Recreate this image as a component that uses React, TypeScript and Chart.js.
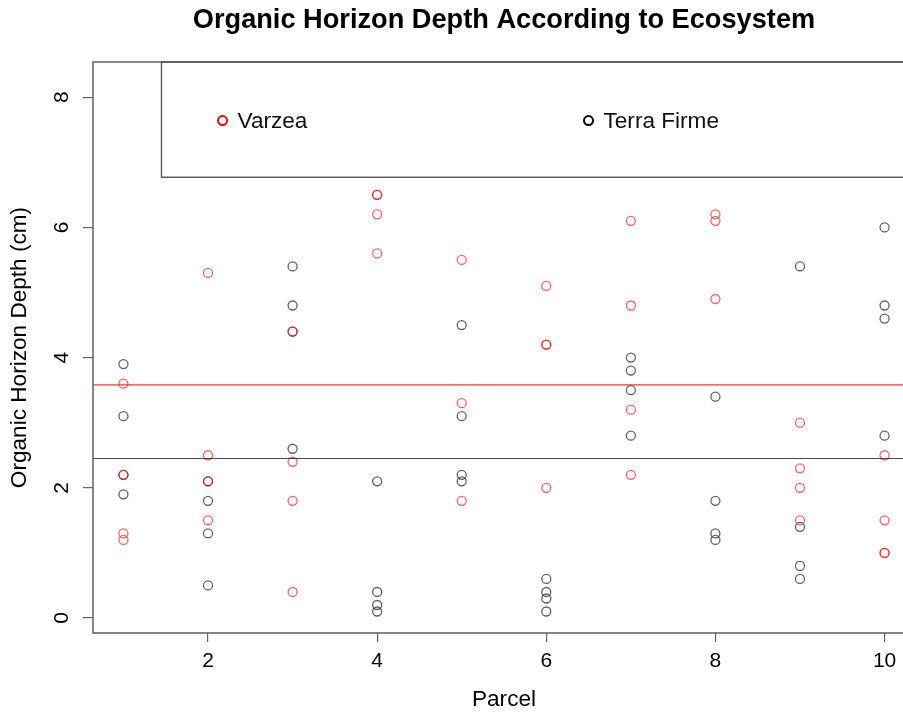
import React, { useEffect, useRef } from "react";
import { Chart, registerables } from "chart.js";

Chart.register(...registerables);

// ---- data ----
const parcels = [1, 2, 3, 4, 5, 6, 7, 8, 9, 10];
const varzeaDepths = [
  [3.6, 2.2, 1.3, 1.2],
  [5.3, 2.5, 2.1, 1.5],
  [4.4, 2.4, 1.8, 0.4],
  [6.5, 6.5, 6.2, 5.6],
  [5.5, 3.3, 1.8],
  [5.1, 4.2, 4.2, 2.0],
  [6.1, 4.8, 3.2, 2.2],
  [6.2, 6.1, 4.9],
  [3.0, 2.3, 2.0, 1.5],
  [2.5, 1.5, 1.0, 1.0],
];
const terraFirmeDepths = [
  [3.9, 3.1, 2.2, 1.9],
  [2.1, 1.8, 1.3, 0.5],
  [5.4, 4.8, 4.4, 2.6],
  [2.1, 0.4, 0.2, 0.1],
  [4.5, 3.1, 2.2, 2.1],
  [0.6, 0.4, 0.3, 0.1],
  [4.0, 3.8, 3.5, 2.8],
  [3.4, 1.8, 1.3, 1.2],
  [5.4, 1.4, 0.8, 0.6],
  [6.0, 4.8, 4.6, 2.8],
];
const varzeaMean = 3.58;
const terraFirmeMean = 2.45;
const xTicks = [2, 4, 6, 8, 10];
const yTicks = [0, 2, 4, 6, 8];
const xRange = [0.64, 10.36];
const yRange = [-0.23, 8.54];
const seriesNames = ["Varzea", "Terra Firme"];
const titleText = "Organic Horizon Depth According to Ecosystem";
const xTitle = "Parcel";
const yTitle = "Organic Horizon Depth (cm)";

const FONT = "'Liberation Sans', Arial, sans-serif";
const RED_PT = "rgba(255,0,0,0.62)";
const BLK_PT = "rgba(0,0,0,0.62)";

function toPoints(groups: number[][]) {
  const out: { x: number; y: number }[] = [];
  groups.forEach((vals, i) => vals.forEach((v) => out.push({ x: parcels[i], y: v })));
  return out;
}

const decorPlugin = {
  id: "decor",
  afterDraw(chart: any) {
    const { ctx, chartArea, scales } = chart;
    const xs = scales.x;
    const ys = scales.y;
    ctx.save();
    // box
    ctx.strokeStyle = "#555";
    ctx.lineWidth = 1.4;
    ctx.strokeRect(chartArea.left, chartArea.top, chartArea.right - chartArea.left, chartArea.bottom - chartArea.top);

    // title
    ctx.fillStyle = "#000";
    ctx.font = `bold 27.2px ${FONT}`;
    ctx.textAlign = "center";
    ctx.textBaseline = "middle";
    ctx.fillText(titleText, (chartArea.left + chartArea.right) / 2, 21);

    // y tick labels (rotated)
    ctx.font = `21px ${FONT}`;
    yTicks.forEach((v) => {
      const py = ys.getPixelForValue(v);
      ctx.save();
      ctx.translate(chartArea.left - 31, py);
      ctx.rotate(-Math.PI / 2);
      ctx.fillText(String(v), 0, 0);
      ctx.restore();
    });

    // y title
    ctx.font = `22.6px ${FONT}`;
    ctx.save();
    ctx.translate(20, (chartArea.top + chartArea.bottom) / 2);
    ctx.rotate(-Math.PI / 2);
    ctx.fillText(yTitle, 0, 0);
    ctx.restore();

    // legend box
    const bx = xs.getPixelForValue(1.45);
    const by = ys.getPixelForValue(6.77);
    ctx.strokeStyle = "#555";
    ctx.lineWidth = 1.4;
    ctx.strokeRect(bx, chartArea.top, chartArea.right - bx + 5, by - chartArea.top);
    const cy = (chartArea.top + by) / 2 + 1;
    const items = [
      { name: seriesNames[0], color: "#ff0000", x: bx + 61 },
      { name: seriesNames[1], color: "#000000", x: bx + 427 },
    ];
    items.forEach((it) => {
      ctx.beginPath();
      ctx.arc(it.x, cy, 4.5, 0, Math.PI * 2);
      ctx.strokeStyle = it.color;
      ctx.lineWidth = 2;
      ctx.stroke();
      ctx.fillStyle = "#111";
      ctx.font = `22.6px ${FONT}`;
      ctx.textAlign = "left";
      ctx.textBaseline = "middle";
      ctx.fillText(it.name, it.x + 15, cy + 1);
    });
    ctx.restore();
  },
};

export default function App() {
  const ref = useRef<HTMLCanvasElement | null>(null);
  useEffect(() => {
    if (!ref.current) return;
    const chart = new Chart(ref.current, {
      type: "scatter",
      data: {
        datasets: [
          {
            type: "line",
            label: "Varzea mean",
            data: [
              { x: xRange[0], y: varzeaMean },
              { x: xRange[1], y: varzeaMean },
            ],
            borderColor: "rgba(255,0,0,0.8)",
            borderWidth: 1.2,
            pointRadius: 0,
            fill: false,
          } as any,
          {
            type: "line",
            label: "Terra Firme mean",
            data: [
              { x: xRange[0], y: terraFirmeMean },
              { x: xRange[1], y: terraFirmeMean },
            ],
            borderColor: "rgba(0,0,0,0.7)",
            borderWidth: 1.2,
            pointRadius: 0,
            fill: false,
          } as any,
          {
            label: seriesNames[0],
            data: toPoints(varzeaDepths),
            pointRadius: 4.5,
            pointBorderWidth: 1.3,
            borderColor: RED_PT,
            backgroundColor: "rgba(0,0,0,0)",
          },
          {
            label: seriesNames[1],
            data: toPoints(terraFirmeDepths),
            pointRadius: 4.5,
            pointBorderWidth: 1.3,
            borderColor: BLK_PT,
            backgroundColor: "rgba(0,0,0,0)",
          },
        ],
      },
      options: {
        responsive: false,
        animation: false,
        devicePixelRatio: 1,
        layout: { padding: { top: 62, right: 15, left: 0, bottom: 0 } },
        plugins: { legend: { display: false }, tooltip: { enabled: false }, title: { display: false } },
        scales: {
          x: {
            type: "linear",
            min: xRange[0],
            max: xRange[1],
            afterBuildTicks: (s: any) => {
              s.ticks = xTicks.map((v) => ({ value: v }));
            },
            afterFit: (s: any) => {
              s.height = 82;
            },
            grid: { drawOnChartArea: false, tickLength: 9, color: "#666", lineWidth: 1.2 },
            border: { display: false },
            ticks: { font: { family: FONT, size: 21 }, color: "#000", padding: 7, maxRotation: 0 },
            title: { display: true, text: xTitle, font: { family: FONT, size: 22.6 }, color: "#000", padding: { top: 0, bottom: 2 } },
          },
          y: {
            type: "linear",
            min: yRange[0],
            max: yRange[1],
            afterBuildTicks: (s: any) => {
              s.ticks = yTicks.map((v) => ({ value: v }));
            },
            afterFit: (s: any) => {
              s.width = 93;
            },
            grid: { drawOnChartArea: false, tickLength: 10, color: "#666", lineWidth: 1.2 },
            border: { display: false },
            ticks: { display: false },
          },
        },
      },
      plugins: [decorPlugin],
    } as any);
    return () => chart.destroy();
  }, []);
  return (
    <div style={{ position: "fixed", left: 0, top: 0, width: 903, height: 715, overflow: "hidden", background: "#fff" }}>
      <canvas ref={ref} width={930} height={715} style={{ display: "block" }} />
    </div>
  );
}
